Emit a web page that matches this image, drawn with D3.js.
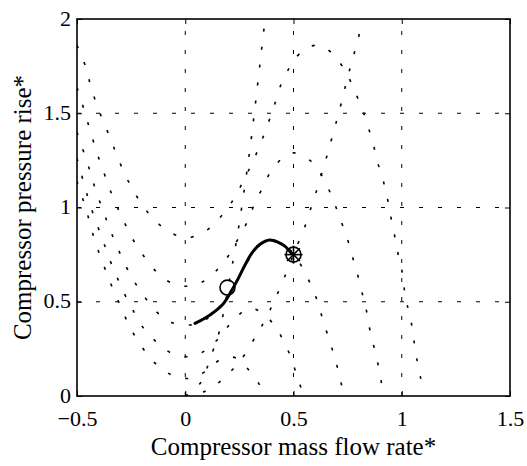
<!DOCTYPE html>
<meta charset="utf-8">
<script src="https://d3js.org/d3.v7.min.js"></script>
<style>
  body { margin: 0; background: #fff; }
</style>
<body>
<div id="chart"></div>
<script>

// axis ticks
var xTicks = [-0.5, 0, 0.5, 1, 1.5];
var yTicks = [0, 0.5, 1, 1.5, 2];

// compressor characteristics (dotted), highest speed first
var speedLine1 = [[-0.5,1.86],[-0.458,1.74],[-0.437,1.645],[-0.41,1.55],[-0.38,1.46],[-0.347,1.37],[-0.317,1.28],
  [-0.28,1.18],[-0.24,1.09],[-0.19,1.0],[-0.13,0.92],[-0.056,0.86],[0.015,0.84],[0.1,0.88],[0.155,0.94],[0.21,1.02],
  [0.25,1.1],[0.29,1.19],[0.33,1.29],[0.36,1.375],[0.39,1.47],[0.418,1.565],[0.445,1.66],[0.48,1.74],[0.5,1.78],
  [0.558,1.845],[0.6,1.86],[0.642,1.85],[0.7,1.79],[0.75,1.7],[0.787,1.606],[0.82,1.517],[0.838,1.45],[0.866,1.35],
  [0.884,1.257],[0.91,1.16],[0.93,1.07],[0.946,0.97],[0.964,0.87],[0.98,0.77],[1.0,0.67],[1.01,0.58],[1.024,0.49],
  [1.046,0.377],[1.058,0.28],[1.072,0.182],[1.089,0.085],[1.098,0.02]];
var speedLine2 = [[-0.5,1.635],[-0.486,1.588],[-0.408,1.291],[-0.38,1.199],[-0.352,1.107],[-0.318,1.013],[-0.283,0.925],
  [-0.244,0.835],[-0.192,0.743],[-0.13,0.656],[-0.061,0.598],[0.023,0.583],[0.099,0.619],[0.16,0.686],[0.207,0.757],
  [0.245,0.836],[0.291,0.934],[0.322,1.025],[0.36,1.11],[0.4,1.2],[0.458,1.27],[0.5,1.29],[0.576,1.25],[0.63,1.17],
  [0.669,1.08],[0.7,0.99],[0.73,0.895],[0.758,0.8],[0.78,0.707],[0.804,0.61],[0.823,0.518],[0.838,0.447],[0.853,0.35],
  [0.872,0.258],[0.892,0.159],[0.907,0.064],[0.915,0.0]];
var speedLine3 = [[-0.5,1.4],[-0.462,1.27],[-0.435,1.176],[-0.411,1.08],[-0.38,0.987],[-0.351,0.893],[-0.318,0.801],
  [-0.283,0.711],[-0.244,0.624],[-0.192,0.532],[-0.13,0.444],[-0.061,0.389],[0.023,0.377],[0.1,0.41],[0.15,0.46],
  [0.2,0.54],[0.25,0.635],[0.3,0.735],[0.35,0.805],[0.4,0.828],[0.45,0.805],[0.5,0.755],[0.545,0.672],[0.584,0.58],
  [0.615,0.488],[0.638,0.394],[0.665,0.3],[0.689,0.209],[0.712,0.111],[0.732,0.0]];
var speedLine4 = [[-0.5,1.26],[-0.485,1.199],[-0.462,1.102],[-0.438,1.01],[-0.411,0.92],[-0.38,0.824],[-0.351,0.73],
  [-0.318,0.638],[-0.283,0.548],[-0.244,0.46],[-0.192,0.359],[-0.13,0.283],[-0.061,0.226],[0.023,0.209],[0.1,0.247],
  [0.157,0.31],[0.21,0.386],[0.268,0.45],[0.3,0.465],[0.348,0.447],[0.415,0.371],[0.453,0.293],[0.49,0.2],
  [0.52,0.09],[0.55,0.0]];
var speedLine5 = [[-0.5,1.14],[-0.485,1.084],[-0.46,1.0],[-0.435,0.893],[-0.411,0.801],[-0.38,0.704],[-0.351,0.615],
  [-0.318,0.527],[-0.283,0.433],[-0.244,0.341],[-0.192,0.247],[-0.13,0.164],[-0.061,0.111],[0.023,0.094],[0.1,0.135],
  [0.157,0.19],[0.2,0.206],[0.238,0.2],[0.3,0.129],[0.348,0.05],[0.367,0.0]];

// throttle lines (dotted)
var throttle1 = [[0,0],[0.071,0.07],[0.1,0.147],[0.13,0.247],[0.157,0.34],[0.207,0.63],[0.25,0.92],[0.3,1.32],
  [0.32,1.51],[0.345,1.76],[0.365,1.96],[0.37,2.0]];
var throttle2 = [[0,0],[0.09,0.024],[0.16,0.076],[0.222,0.145],[0.276,0.222],[0.322,0.31],[0.345,0.354],[0.388,0.448],
  [0.422,0.532],[0.46,0.635],[0.5,0.75],[0.523,0.815],[0.553,0.9],[0.58,0.996],[0.604,1.08],[0.63,1.18],[0.656,1.28],
  [0.68,1.38],[0.711,1.51],[0.75,1.69],[0.776,1.8],[0.8,1.9],[0.816,2.0]];

// simulated trajectory (solid)
var trajectory = [[0.045,0.385],[0.114,0.43],[0.176,0.49],[0.207,0.545],[0.245,0.624],[0.276,0.695],[0.307,0.757],
  [0.345,0.805],[0.39,0.828],[0.43,0.815],[0.46,0.795],[0.485,0.765],[0.5,0.75]];

// markers
var startPoint = [0.195, 0.575];
var endPoint = [0.5, 0.75];

var serif = "Liberation Serif";

var margin = { top: 19, right: 17, bottom: 70, left: 77 },
  width = 527 - margin.left - margin.right,
  height = 466 - margin.top - margin.bottom;

var svg = d3.select("#chart")
  .append("svg")
  .attr("width", 527)
  .attr("height", 466)
  .append("g")
  .attr("transform", "translate(" + margin.left + "," + margin.top + ")");

var x = d3.scaleLinear().domain([-0.5, 1.5]).range([0, width]);
var y = d3.scaleLinear().domain([0, 2]).range([height, 0]);

svg.append("clipPath").attr("id", "clip")
  .append("rect").attr("width", width).attr("height", height);

// grid
var grid = svg.append("g").attr("stroke", "#000").attr("stroke-width", 1).attr("stroke-dasharray", "4,15");
grid.selectAll(".vg").data(xTicks.slice(1, -1)).enter().append("line")
  .attr("x1", d => x(d)).attr("x2", d => x(d)).attr("y1", height).attr("y2", 0);
grid.selectAll(".hg").data(yTicks.slice(1, -1)).enter().append("line")
  .attr("y1", d => y(d)).attr("y2", d => y(d)).attr("x1", 0).attr("x2", width);

var line = d3.line()
  .x(d => x(d[0]))
  .y(d => y(d[1]))
  .curve(d3.curveCatmullRom.alpha(0.5));

var plot = svg.append("g").attr("clip-path", "url(#clip)");

// dotted characteristics and throttle lines
plot.selectAll(".dotted")
  .data([speedLine1, speedLine2, speedLine3, speedLine4, speedLine5, throttle1, throttle2])
  .enter().append("path")
  .attr("d", line)
  .attr("fill", "none")
  .attr("stroke", "#000")
  .attr("stroke-width", 1.6)
  .attr("stroke-dasharray", "3,15");

// trajectory
plot.append("path")
  .datum(trajectory)
  .attr("d", line)
  .attr("fill", "none")
  .attr("stroke", "#000")
  .attr("stroke-width", 3)
  .attr("stroke-linecap", "round");

// start marker
svg.append("circle")
  .attr("cx", x(startPoint[0])).attr("cy", y(startPoint[1])).attr("r", 7.5)
  .attr("fill", "none").attr("stroke", "#000").attr("stroke-width", 1.6);

// end marker: circle with asterisk
var em = svg.append("g")
  .attr("transform", "translate(" + x(endPoint[0]) + "," + y(endPoint[1]) + ")")
  .attr("stroke", "#000").attr("stroke-width", 1.6).attr("fill", "none");
em.append("circle").attr("r", 7.5);
[0, 45, 90, 135].forEach(function (a) {
  var r = 9, t = a * Math.PI / 180;
  em.append("line")
    .attr("x1", -r * Math.cos(t)).attr("y1", -r * Math.sin(t))
    .attr("x2", r * Math.cos(t)).attr("y2", r * Math.sin(t));
});

// axes, MATLAB style: ticks inside on all sides
var fmt = d3.format("");
svg.append("g")
  .attr("transform", "translate(0," + height + ")")
  .call(d3.axisBottom(x).tickValues(xTicks).tickFormat(fmt).tickSize(-5).tickPadding(14))
  .attr("font-family", serif).attr("font-size", 22)
  .call(g => g.select(".domain").remove());
svg.append("g")
  .call(d3.axisLeft(y).tickValues(yTicks).tickFormat(fmt).tickSize(-5).tickPadding(6))
  .attr("font-family", serif).attr("font-size", 22)
  .call(g => g.select(".domain").remove())
  .call(g => g.selectAll("text").attr("dy", "0.28em"));
svg.append("g")
  .call(d3.axisTop(x).tickValues(xTicks).tickSize(-5).tickFormat(""))
  .call(g => g.select(".domain").remove());
svg.append("g")
  .attr("transform", "translate(" + width + ",0)")
  .call(d3.axisRight(y).tickValues(yTicks).tickSize(-5).tickFormat(""))
  .call(g => g.select(".domain").remove());

// box
svg.append("rect")
  .attr("width", width).attr("height", height)
  .attr("fill", "none").attr("stroke", "#000").attr("stroke-width", 1.6);

// axis labels
svg.append("text")
  .attr("x", width / 2).attr("y", height + 59)
  .attr("text-anchor", "middle")
  .attr("font-family", serif)
  .attr("font-size", 25)
  .text("Compressor mass flow rate*");
svg.append("text")
  .attr("transform", "translate(" + (31 - margin.left) + "," + (height / 2) + ") rotate(-90)")
  .attr("text-anchor", "middle")
  .attr("font-family", serif)
  .attr("font-size", 25)
  .text("Compressor pressure rise*");

</script>
</body>
